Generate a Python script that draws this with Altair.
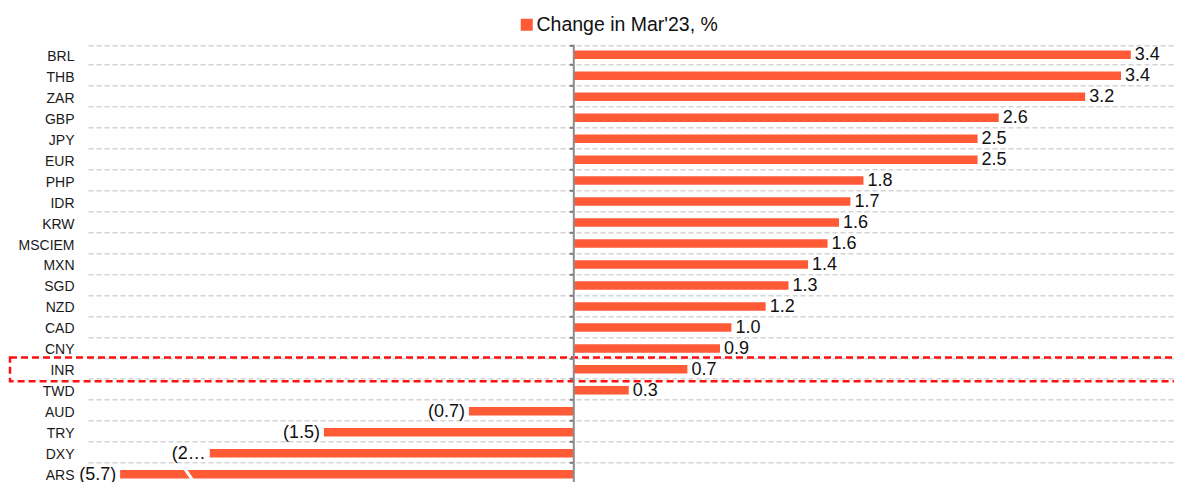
import altair as alt
import pandas as pd

# ---- data ----
categories = ["BRL", "THB", "ZAR", "GBP", "JPY", "EUR", "PHP", "IDR", "KRW", "MSCIEM",
              "MXN", "SGD", "NZD", "CAD", "CNY", "INR", "TWD", "AUD", "TRY", "DXY", "ARS"]
values = [3.42, 3.36, 3.14, 2.61, 2.48, 2.48, 1.78, 1.70, 1.63, 1.56,
          1.44, 1.32, 1.18, 0.97, 0.90, 0.70, 0.34, -0.64, -1.53, -2.23, -5.70]
value_labels = ["3.4", "3.4", "3.2", "2.6", "2.5", "2.5", "1.8", "1.7", "1.6", "1.6",
                "1.4", "1.3", "1.2", "1.0", "0.9", "0.7", "0.3", "(0.7)", "(1.5)", "(2\u2026", "(5.7)"]
series_name = "Change in Mar'23, %"
highlight = "INR"
axis_break = -2.78      # bars beyond this are cut off at the axis break
break_mark = -2.36      # where the break symbol sits on the cut bar
x_domain = [-2.977, 3.685]

df = pd.DataFrame({"cat": categories, "value": values, "label": value_labels})
df["shown"] = df["value"].clip(lower=axis_break)
df["series"] = series_name

# ---- layout / style ----
W, H = 1086, 440.4
zero_px = (0 - x_domain[0]) / (x_domain[1] - x_domain[0]) * W
FONT = "Liberation Sans, Arial, sans-serif"
BAR = "#FF5A36"

xscale = alt.Scale(domain=x_domain, nice=False, zero=False)
ysort = categories

base = alt.Chart(df)

bars = base.mark_bar(size=8.5).encode(
    x=alt.X("shown:Q", scale=xscale, axis=None),
    y=alt.Y("cat:N", sort=ysort, title=None,
            axis=alt.Axis(orient="left", ticks=False, domain=False, labelPadding=14,
                          labelFont=FONT, labelFontSize=14, labelColor="#1a1a1a",
                          labelOffset=1.5, grid=True, gridDash=[5, 3],
                          gridColor="#d4d4d4", gridWidth=1.5, tickBand="extent")),
    color=alt.Color("series:N", scale=alt.Scale(range=[BAR]),
                    legend=alt.Legend(orient="none", legendX=429, legendY=-29.3, title=None,
                                      symbolType="square", symbolSize=144,
                                      symbolStrokeWidth=0, labelFont=FONT,
                                      labelFontSize=19.5, labelColor="#111111",
                                      labelOffset=0, labelLimit=500, padding=0)),
)

pos_text = base.transform_filter(alt.datum.value >= 0).mark_text(
    align="left", baseline="middle", dx=4, dy=0.5, font=FONT, fontSize=18, color="#111111"
).encode(
    x=alt.X("shown:Q", scale=xscale, axis=None),
    y=alt.Y("cat:N", sort=ysort, title=None,
            axis=alt.Axis(orient="left", offset=-zero_px, labels=False, grid=False,
                          domain=True, domainColor="#8c8c8c", domainWidth=2,
                          ticks=True, tickColor="#777777", tickWidth=2, tickSize=4,
                          tickBand="extent", zindex=1)),
    text="label:N",
)

neg_text = base.transform_filter(alt.datum.value < 0).mark_text(
    align="right", baseline="middle", dx=-4, dy=0.5, font=FONT, fontSize=18, color="#111111"
).encode(
    x=alt.X("shown:Q", scale=xscale, axis=None),
    y=alt.Y("cat:N", sort=ysort, axis=None),
    text="label:N",
)

brk = base.transform_filter(alt.datum.value < axis_break).mark_point(
    shape="M-0.6,-0.85L0.6,0.85", filled=False, color="white", strokeWidth=3,
    size=144, opacity=1
).encode(
    x=alt.datum(break_mark, scale=xscale),
    y=alt.Y("cat:N", sort=ysort, axis=None),
)

box = base.transform_filter(alt.datum.cat == highlight).mark_bar(
    fill="transparent", stroke="#ff1010", strokeWidth=2.5, strokeDash=[7, 4],
    height={"band": 1.25}
).encode(
    x=alt.value(-78),
    x2=alt.value(W + 80),
    y=alt.Y("cat:N", sort=ysort, axis=None),
)

chart = alt.layer(bars, pos_text, neg_text, brk, box).resolve_axis(
    y="independent"
).properties(
    width=W, height=H,
    autosize=alt.AutoSizeParams(type="none"),
    padding={"left": 80, "top": 36.3, "right": 0, "bottom": 0},
).configure_view(stroke="transparent")

chart.save("out.html", embed_options={"renderer": "svg", "actions": False})
